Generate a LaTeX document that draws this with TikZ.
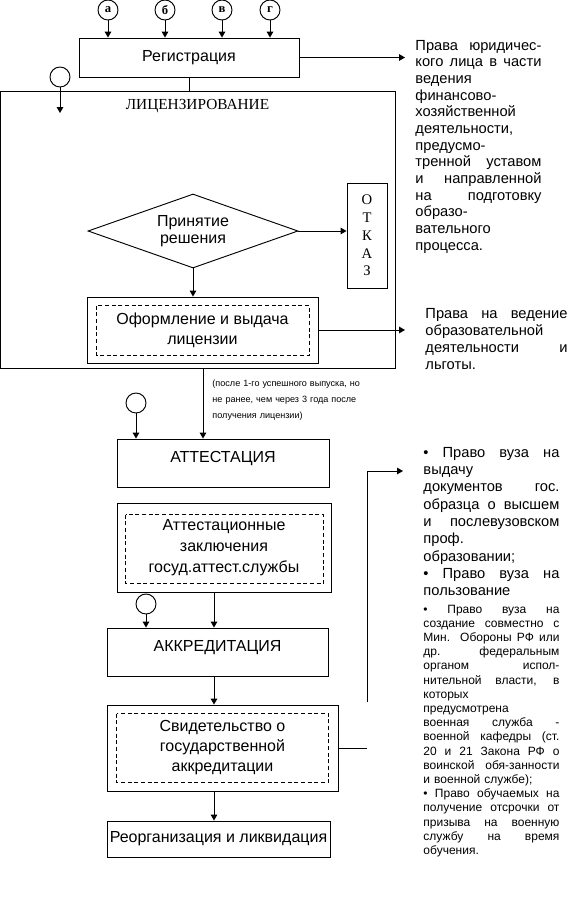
\documentclass[tikz,border=0pt]{standalone}
\usepackage{fontspec}
\setmainfont{Liberation Sans}
\newfontfamily\tnr{Liberation Serif}
\usetikzlibrary{arrows.meta,shapes.geometric}

% justified line of a narrow text column
\newcommand{\jl}[1]{\makebox[\hsize][s]{\spaceskip=0pt\xspaceskip=0pt\relax #1}}

\begin{document}
\begin{tikzpicture}[x=0.75pt, y=-0.75pt, line width=0.7pt,
        >={Triangle[length=4.5pt,width=5pt]},
        box/.style={draw, inner sep=0pt, align=center, font=\fontsize{12}{15}\selectfont},
        stage/.style={box, text height=17.25pt, text depth=18.75pt},
        innerline/.style={dash pattern=on 3pt off 2pt},
        circ/.style={draw, circle, minimum size=15pt, inner sep=0pt,
            font=\tnr\bfseries\fontsize{9.5}{9.5}\selectfont},
        rights/.style={anchor=base west, inner sep=0pt, align=left}]

        \useasboundingbox (0,0) rectangle (578,911);

        % === Registration ===
        \node[box, minimum width=165pt, minimum height=29.25pt] (reg) at (189,57.5) {Регистрация};
        \foreach \ch/\x [count=\i] in {а/108, б/165, в/222, г/270} {
            \node[circ] (c\i) at (\x,10) {\ch};
            \draw[->] (c\i) -- (c\i |- reg.north);
        }

        % rights of the legal person
        \node[rights, text width=94.5pt, font=\fontsize{11}{12.5}\selectfont] (prava1) at (415,50)
            {\jl{Права юридичес-}\\ \jl{кого лица в части}\\ ведения\\ финансово-\\ хозяйственной\\
             деятельности,\\ предусмо-\\ \jl{тренной уставом}\\ \jl{и направленной}\\
             \jl{на подготовку}\\ образо-\\ вательного\\ процесса.};
        \draw[->, shorten >=7.5pt] (reg.east) -- (reg.east -| prava1.west);

        % === Licensing frame ===
        \node[draw, inner sep=0pt, minimum width=295.9pt, minimum height=207.75pt] (lic) at (197.75,229.5) {};
        \node[font=\tnr\fontsize{11.5}{12}\selectfont] (licT) at (197.5,106) {ЛИЦЕНЗИРОВАНИЕ};
        \draw (reg.south) -- (reg.south |- lic.north);

        \node[circ] (c0) at (60,77) {};
        \coordinate (c0end) at (60,113);
        \draw[->] (c0) -- (c0end);

        % decision and refusal
        \node[diamond, draw, aspect=2.8, inner sep=0pt, minimum width=157.5pt, minimum height=55.5pt,
            align=center, font=\fontsize{12}{12.75}\selectfont] (dec) at (193,231) {Принятие\\решения};
        \node[draw, inner sep=0pt, minimum width=30pt, minimum height=78.75pt, align=center,
            font=\tnr\fontsize{11}{13.3}\selectfont] (otk) at (367,235.5) {О\\Т\\К\\А\\З};
        \draw[->] (dec.east) -- (dec.east -| otk.west);

        % licence issued
        \node[box, minimum width=173.25pt, minimum height=49.5pt] (ofo) at (202.5,330)
            {Оформление и выдача\\лицензии};
        \draw[innerline] ([shift={(10,9)}]ofo.north west) rectangle ([shift={(-9,-8)}]ofo.south east);
        \draw[->] (dec.south) -- (dec.south |- ofo.north);

        \node[rights, text width=106.5pt, font=\fontsize{11}{12.75}\selectfont] (prava2) at (425,318)
            {\jl{Права на ведение}\\ образовательной\\ \jl{деятельности и}\\ льготы.};
        \draw[->, shorten >=15pt] (ofo.east) -- (ofo.east -| prava2.west);

        % === Attestation ===
        \coordinate (axis1) at (203,0);
        \coordinate (axis2) at (214,0);
        \node[stage, minimum width=159pt] (att) at (223,463) {АТТЕСТАЦИЯ};
        \draw[->] (lic.south -| axis1) -- (att.north -| axis1);
        \node[rights, text width=115pt, font=\fontsize{6.8}{12}\selectfont] (note) at (212,386)
            {(после 1-го успешного выпуска, но\\не ранее, чем через 3 года после\\получения лицензии)};

        \node[circ] (c5) at (136,403) {};
        \draw[->] (c5) -- (c5 |- att.north);

        \node[box, minimum width=160.5pt, minimum height=66.75pt, font=\fontsize{12}{15.75}\selectfont]
            (azak) at (224,547.5) {Аттестационные\\заключения\\госуд.аттест.службы};
        \draw[innerline] ([shift={(9,12)}]azak.north west) rectangle ([shift={(-8,-9)}]azak.south east);

        % === Accreditation ===
        \node[stage, minimum width=165.75pt] (akk) at (217.5,652) {АККРЕДИТАЦИЯ};
        \draw[->] (azak.south -| axis2) -- (akk.north -| axis2);

        \node[circ] (c6) at (146,604) {};
        \draw[->] (c6) -- (c6 |- akk.north);

        \node[box, minimum width=173.25pt, minimum height=64.5pt] (svid) at (222.5,748)
            {Свидетельство о\\государственной\\аккредитации};
        \draw[innerline] ([shift={(10,9)}]svid.north west) rectangle ([shift={(-10,-9)}]svid.south east);
        \draw[->] (akk.south -| axis2) -- (svid.north -| axis2);

        \node[box, minimum width=167.25pt, minimum height=27pt] (reorg) at (218.5,839)
            {Реорганизация и ликвидация};
        \draw[->] (svid.south -| axis2) -- (reorg.north -| axis2);

        % === Rights of the accredited institution ===
        \node[rights, text width=102pt, font=\fontsize{11}{13}\selectfont] (prava3) at (423,457)
            {\jl{• Право вуза на}\\ выдачу\\ \jl{документов гос.}\\ \jl{образца о высшем}\\
             \jl{и послевузовском}\\ проф.\\ образовании;\\ \jl{• Право вуза на}\\ пользование};
        \node[rights, text width=102pt, font=\fontsize{9}{10.65}\selectfont] (prava4) at (423,613)
            {\jl{• Право вуза на}\\ \jl{создание совместно с}\\ \jl{Мин. Обороны РФ или}\\
             \jl{др. федеральным}\\ \jl{органом испол-}\\ \jl{нительной власти, в}\\ которых\\
             предусмотрена\\ \jl{военная служба -}\\ \jl{военной кафедры (ст.}\\
             \jl{20 и 21 Закона РФ о}\\ \jl{воинской обя-занности}\\ и военной службе);\\
             \jl{• Право обучаемых на}\\ \jl{получение отсрочки от}\\ \jl{призыва на военную}\\
             \jl{службу на время}\\ обучения.};

        % connector from the certificate (left open as drawn)
        \coordinate (gapx) at (367,0);
        \coordinate (vbot) at (367,702);
        \coordinate (p3in) at (403,471);
        \draw (svid.east) -- (svid.east -| gapx);
        \draw[->] (vbot) |- (p3in);

    \end{tikzpicture}
\end{document}
